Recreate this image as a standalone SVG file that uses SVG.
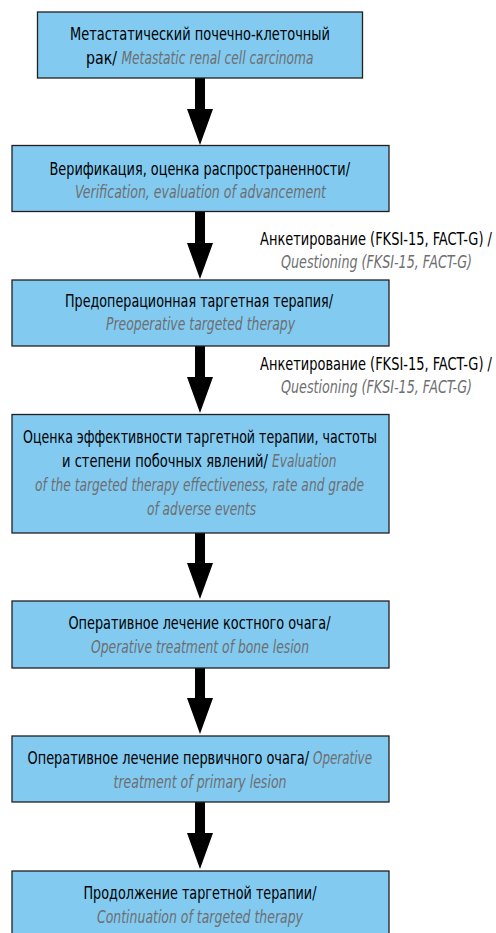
<svg xmlns="http://www.w3.org/2000/svg" width="496" height="933" viewBox="0 0 496 933">
<style>
.box{fill:#82caf0;stroke:#231f20;stroke-width:1.3}
text{font-family:"DejaVu Sans Condensed","DejaVu Sans","Liberation Sans",sans-serif;font-stretch:condensed;font-size:17.5px;fill:#000}
.en{font-style:italic;fill:#6d6e71}
.arr{fill:#000}
</style>
<rect width="496" height="933" fill="#fff"/>
<g id="connectors">
<path class="arr" d="M195,78 H205 V109 H213 L200,145 L187,109 H195 Z"/>
<path class="arr" d="M195,212 H205 V243 H213 L200,279 L187,243 H195 Z"/>
<path class="arr" d="M195,346 H205 V377 H213 L200,413 L187,377 H195 Z"/>
<path class="arr" d="M195,533 H205 V563 H213 L200,599 L187,563 H195 Z"/>
<path class="arr" d="M195,668 H205 V698 H213 L200,734 L187,698 H195 Z"/>
<path class="arr" d="M195,802 H205 V833 H213 L200,869 L187,833 H195 Z"/>
<g id="label1"><text x="260" y="245" textLength="232" lengthAdjust="spacingAndGlyphs">Анкетирование (FKSI-15, FACT-G) /</text><text class="en" x="281" y="268" textLength="191" lengthAdjust="spacingAndGlyphs">Questioning (FKSI-15, FACT-G)</text></g>
<g id="label2"><text x="260" y="370" textLength="232" lengthAdjust="spacingAndGlyphs">Анкетирование (FKSI-15, FACT-G) /</text><text class="en" x="281" y="393" textLength="191" lengthAdjust="spacingAndGlyphs">Questioning (FKSI-15, FACT-G)</text></g>
</g>
<g id="n1"><rect class="box" x="37.5" y="12" width="325" height="66"/>
<text x="70" y="40" textLength="260" lengthAdjust="spacingAndGlyphs">Метастатический почечно-клеточный</text>
<text x="86" y="64" textLength="31" lengthAdjust="spacingAndGlyphs">рак/</text>
<text class="en" x="121.5" y="64" textLength="192" lengthAdjust="spacingAndGlyphs">Metastatic renal cell carcinoma</text></g>
<g id="n2"><rect class="box" x="12" y="145.5" width="377" height="66"/>
<text x="49.5" y="175" textLength="300.5" lengthAdjust="spacingAndGlyphs">Верификация, оценка распространенности/</text>
<text class="en" x="75" y="198" textLength="251" lengthAdjust="spacingAndGlyphs">Verification, evaluation of advancement</text></g>
<g id="n3"><rect class="box" x="12" y="280" width="377" height="66"/>
<text x="65" y="307" textLength="268" lengthAdjust="spacingAndGlyphs">Предоперационная таргетная терапия/</text>
<text class="en" x="106" y="330" textLength="189" lengthAdjust="spacingAndGlyphs">Preoperative targeted therapy</text></g>
<g id="n4"><rect class="box" x="12" y="414.5" width="377" height="118.5"/>
<text x="23" y="443" textLength="354" lengthAdjust="spacingAndGlyphs">Оценка эффективности таргетной терапии, частоты</text>
<text x="62" y="467" textLength="206" lengthAdjust="spacingAndGlyphs">и степени побочных явлений/</text>
<text class="en" x="272" y="467" textLength="64.5" lengthAdjust="spacingAndGlyphs">Evaluation</text>
<text class="en" x="35" y="491" textLength="329" lengthAdjust="spacingAndGlyphs">of the targeted therapy effectiveness, rate and grade</text>
<text class="en" x="147" y="515" textLength="109" lengthAdjust="spacingAndGlyphs">of adverse events</text></g>
<g id="n5"><rect class="box" x="12" y="601" width="377" height="67"/>
<text x="68.5" y="629" textLength="262" lengthAdjust="spacingAndGlyphs">Оперативное лечение костного очага/</text>
<text class="en" x="91" y="653" textLength="218" lengthAdjust="spacingAndGlyphs">Operative treatment of bone lesion</text></g>
<g id="n6"><rect class="box" x="12" y="736" width="377" height="66"/>
<text x="27.5" y="764" textLength="281.5" lengthAdjust="spacingAndGlyphs">Оперативное лечение первичного очага/</text>
<text class="en" x="313" y="764" textLength="59" lengthAdjust="spacingAndGlyphs">Operative</text>
<text class="en" x="113.5" y="788" textLength="173" lengthAdjust="spacingAndGlyphs">treatment of primary lesion</text></g>
<g id="n7"><rect class="box" x="12" y="871" width="377" height="70"/>
<text x="83.5" y="899" textLength="233" lengthAdjust="spacingAndGlyphs">Продолжение таргетной терапии/</text>
<text class="en" x="97" y="923" textLength="206" lengthAdjust="spacingAndGlyphs">Continuation of targeted therapy</text></g>
</svg>
